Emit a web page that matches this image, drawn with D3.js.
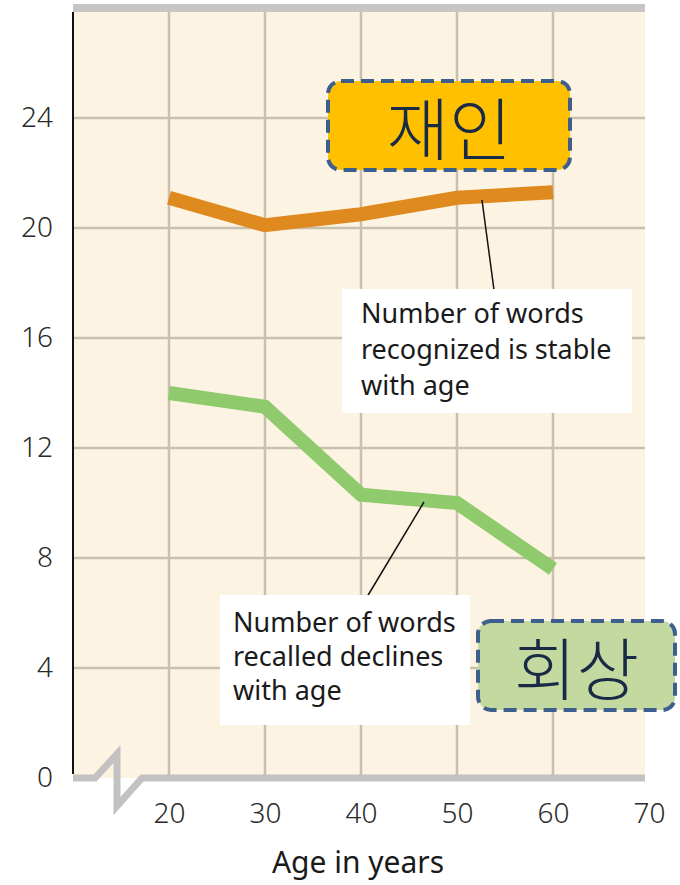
<!DOCTYPE html>
<html>
<head>
<meta charset="utf-8">
<script src="https://cdn.jsdelivr.net/npm/d3@7"></script>
<style>
  body { margin: 0; background: #fff; }
  svg { display: block; }
  text { font-family: "Noto Sans", "Open Sans", sans-serif; }
</style>
</head>
<body>
<script>
// data
var ages = [20, 30, 40, 50, 60];
var recognized = [21.1, 20.1, 20.5, 21.1, 21.3];
var recalled = [14.0, 13.5, 10.3, 10.0, 7.6];
var xTicks = [20, 30, 40, 50, 60, 70];
var yTicks = [0, 4, 8, 12, 16, 20, 24];
var gridY = [4, 8, 12, 16, 20, 24];
var noteRecognized = ["Number of words", "recognized is stable", "with age"];
var noteRecalled = ["Number of words", "recalled declines", "with age"];

var W = 680, H = 885;
var svg = d3.select("body").append("svg").attr("width", W).attr("height", H);

var x = d3.scaleLinear().domain([10, 70]).range([73, 649]);
var y = d3.scaleLinear().domain([0, 28]).range([778, 8]);

// plot background
svg.append("rect")
    .attr("x", x(10)).attr("y", y(28))
    .attr("width", 645 - x(10)).attr("height", y(0) - y(28))
    .attr("fill", "#fdf3e3");

// grid
svg.selectAll(".gy").data(gridY).enter().append("line")
    .attr("x1", x(10)).attr("x2", 645)
    .attr("y1", function(d) { return y(d); }).attr("y2", function(d) { return y(d); })
    .attr("stroke", "#c9c0b0").attr("stroke-width", 2.5);
svg.selectAll(".gx").data(ages).enter().append("line")
    .attr("x1", function(d) { return x(d); }).attr("x2", function(d) { return x(d); })
    .attr("y1", y(28)).attr("y2", y(0))
    .attr("stroke", "#c9c0b0").attr("stroke-width", 2.5);

// top border
svg.append("rect")
    .attr("x", x(10)).attr("y", 4).attr("width", 645 - x(10)).attr("height", 8)
    .attr("fill", "#c6c6c6");

// y axis line
svg.append("line")
    .attr("x1", x(10)).attr("x2", x(10)).attr("y1", 12).attr("y2", 774)
    .attr("stroke", "#111").attr("stroke-width", 2);

// bottom axis with break
svg.append("path")
    .attr("d", "M" + x(10) + "," + y(0) + " L95," + y(0) + " L117,754 L117,806 L142," + y(0) + " L645," + y(0))
    .attr("fill", "none").attr("stroke", "#c2c2c2").attr("stroke-width", 7)
    .attr("stroke-linejoin", "miter");

// tick labels
var yAxis = d3.axisLeft(y).tickValues(yTicks).tickSize(0).tickPadding(0);
var gy = svg.append("g").attr("transform", "translate(53,0)").call(yAxis);
gy.select(".domain").remove();
gy.selectAll("text").attr("font-size", 28).attr("fill", "#2a2a2a").attr("font-weight", 300)
    .style("font-family", "'Noto Sans', sans-serif");

var xAxis = d3.axisBottom(x).tickValues(xTicks).tickSize(0).tickPadding(0);
var gx = svg.append("g").attr("transform", "translate(0,803)").call(xAxis);
gx.select(".domain").remove();
gx.selectAll("text").attr("font-size", 28).attr("fill", "#2a2a2a").attr("font-weight", 300)
    .style("font-family", "'Noto Sans', sans-serif");

svg.append("text")
    .attr("x", 358).attr("y", 873)
    .attr("text-anchor", "middle").attr("font-size", 30).attr("fill", "#1a1a1a")
    .text("Age in years");

// lines
var line = d3.line()
    .x(function(d, i) { return x(ages[i]); })
    .y(function(d) { return y(d); });

svg.append("path").datum(recognized)
    .attr("d", line).attr("fill", "none")
    .attr("stroke", "#df8a1f").attr("stroke-width", 14);

svg.append("path").datum(recalled)
    .attr("d", line).attr("fill", "none")
    .attr("stroke", "#8fca6c").attr("stroke-width", 14);

// annotation boxes
function note(lines, bx, by, bw, bh, tx, ty, lh) {
    svg.append("rect").attr("x", bx).attr("y", by).attr("width", bw).attr("height", bh)
        .attr("fill", "#fff");
    svg.append("text").attr("x", tx).attr("y", ty).attr("font-size", 27).attr("fill", "#1a1a1a")
        .selectAll("tspan").data(lines).enter().append("tspan")
        .attr("x", tx).attr("dy", function(d, i) { return i ? lh : 0; })
        .text(function(d) { return d; });
}

svg.append("line").attr("x1", 482).attr("y1", 200).attr("x2", 494).attr("y2", 290)
    .attr("stroke", "#111").attr("stroke-width", 1.5);
note(noteRecognized, 342, 289, 290, 124, 361, 323, 36);

svg.append("line").attr("x1", 424).attr("y1", 502).attr("x2", 367).attr("y2", 597)
    .attr("stroke", "#111").attr("stroke-width", 1.5);
note(noteRecalled, 220, 595, 250, 130, 233, 632, 34);

// korean labels
function tag(label, fill, bx, by, bw, bh) {
    svg.append("rect").attr("x", bx).attr("y", by).attr("width", bw).attr("height", bh)
        .attr("rx", 13).attr("fill", fill)
        .attr("stroke", "#3d5f8e").attr("stroke-width", 4)
        .attr("stroke-dasharray", "13,7");
    svg.append("text").attr("x", bx + bw / 2).attr("y", by + bh / 2)
        .attr("text-anchor", "middle").attr("dominant-baseline", "central")
        .attr("font-size", 68).attr("fill", "#182a45").attr("font-weight", 300)
        .style("font-family", "'Noto Sans CJK KR', sans-serif")
        .text(label);
}
tag("재인", "#ffc000", 328, 81, 242, 89);
tag("회상", "#c4d99f", 478, 621, 197, 89);
</script>
</body>
</html>
